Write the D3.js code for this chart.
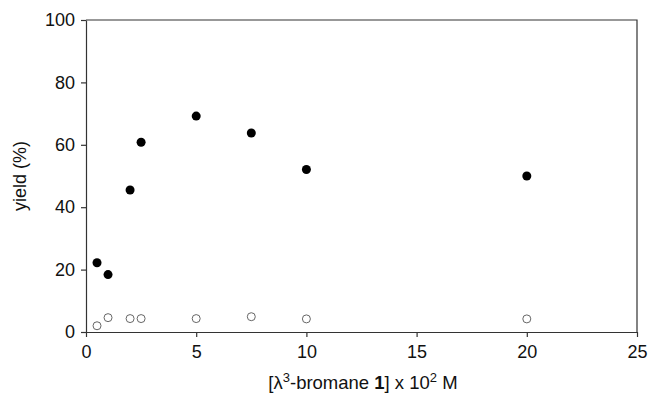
<!DOCTYPE html>
<html>
<head>
<meta charset="utf-8">
<script src="https://cdn.jsdelivr.net/npm/d3@7"></script>
<style>
  body { margin: 0; background: #fff; }
  text { font-family: "Liberation Sans", Arial, sans-serif; fill: #111; }
</style>
</head>
<body>
<script>
var w = 649; // Width of the chart
var h = 397; // Height of the chart

// Data
var concFilled = [0.5, 1, 2, 2.5, 5, 7.5, 10, 20];
var yieldFilled = [22.2, 18.4, 45.5, 60.8, 69.2, 63.8, 52.1, 50.0];
var concOpen = [0.5, 1, 2, 2.5, 5, 7.5, 10, 20];
var yieldOpen = [2.0, 4.6, 4.3, 4.3, 4.3, 4.9, 4.2, 4.2];
var xTicks = [0, 5, 10, 15, 20, 25];
var yTicks = [0, 20, 40, 60, 80, 100];

var mLeft = 86, mRight = 637, mTop = 20, mBottom = 332; // plot box edges

var xScale = d3.scaleLinear().domain([0, 25]).range([mLeft, mRight]);
var yScale = d3.scaleLinear().domain([0, 100]).range([mBottom, mTop]);

var svg = d3.select("body").append("svg")
    .attr("width", w)
    .attr("height", h);

// Frame (top and right lines)
svg.append("path")
    .attr("d", "M" + mLeft + "," + mTop + "H" + mRight + "V" + mBottom)
    .attr("fill", "none")
    .attr("stroke", "#333")
    .attr("stroke-width", 1.2);

// Axes
var xAxis = d3.axisBottom(xScale).tickValues(xTicks).tickSize(5).tickSizeOuter(0).tickPadding(6);
var yAxis = d3.axisLeft(yScale).tickValues(yTicks).tickSize(5).tickSizeOuter(0).tickPadding(6);

var gx = svg.append("g")
    .attr("transform", "translate(0," + mBottom + ")")
    .call(xAxis);
var gy = svg.append("g")
    .attr("transform", "translate(" + mLeft + ",0)")
    .call(yAxis);

[gx, gy].forEach(function(g) {
    g.select(".domain").attr("stroke", "#333").attr("stroke-width", 1.2);
    g.selectAll(".tick line").attr("stroke", "#333").attr("stroke-width", 1.2);
    g.selectAll(".tick text")
        .attr("font-size", 18)
        .attr("font-family", "Liberation Sans, Arial, sans-serif")
        .attr("fill", "#111");
});
gx.selectAll(".tick text").attr("dy", "0.85em");

// Open circles
svg.selectAll("circle.open")
    .data(concOpen)
    .join("circle")
    .attr("class", "open")
    .attr("cx", function(d) { return xScale(d); })
    .attr("cy", function(d, i) { return yScale(yieldOpen[i]); })
    .attr("r", 4)
    .attr("fill", "#fff")
    .attr("stroke", "#666")
    .attr("stroke-width", 1);

// Filled circles
svg.selectAll("circle.filled")
    .data(concFilled)
    .join("circle")
    .attr("class", "filled")
    .attr("cx", function(d) { return xScale(d); })
    .attr("cy", function(d, i) { return yScale(yieldFilled[i]); })
    .attr("r", 4.5)
    .attr("fill", "#000");

// Axis labels
svg.append("text")
    .attr("text-anchor", "middle")
    .attr("transform", "rotate(-90)")
    .attr("x", -(mTop + mBottom) / 2)
    .attr("y", 26)
    .attr("font-size", 18)
    .text("yield (%)");

var xl = svg.append("text")
    .attr("text-anchor", "middle")
    .attr("x", 363)
    .attr("y", 389)
    .attr("font-size", 18.5);
xl.append("tspan").text("[λ");
xl.append("tspan").attr("font-size", 13).attr("dy", -7).text("3");
xl.append("tspan").attr("dy", 7).text("-bromane ");
xl.append("tspan").attr("font-weight", "bold").text("1");
xl.append("tspan").text("] x 10");
xl.append("tspan").attr("font-size", 13).attr("dy", -7).text("2");
xl.append("tspan").attr("dy", 7).text(" M");
</script>
</body>
</html>
